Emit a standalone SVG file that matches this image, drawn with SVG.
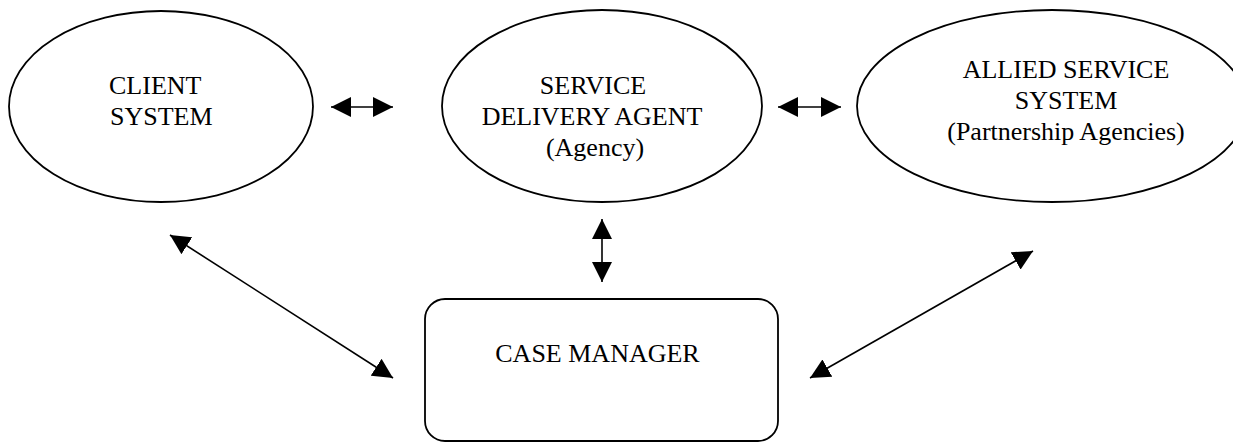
<svg xmlns="http://www.w3.org/2000/svg" width="1233" height="443" viewBox="0 0 1233 443">
<style>
.node{fill:#fff;stroke:#000;stroke-width:1.8}
.lbl{font-family:"Liberation Serif","Times New Roman",serif;font-size:26px;fill:#000}
.c{text-anchor:middle}
.conn{stroke:#000;stroke-width:1.6;fill:none;marker-start:url(#ah);marker-end:url(#ah)}
</style>
<defs>
<marker id="ah" viewBox="0 0 20 20" refX="20" refY="10" markerWidth="20" markerHeight="20" markerUnits="userSpaceOnUse" orient="auto-start-reverse">
<path d="M0,0 L20,10 L0,20 Z" fill="#000"/>
</marker>
</defs>
<rect width="1233" height="443" fill="#fff"/>
<g id="client">
<ellipse class="node" cx="161" cy="106.5" rx="152" ry="95.5"/>
<text class="lbl" x="109" y="94">CLIENT</text>
<text class="lbl" x="110" y="125">SYSTEM</text>
</g>
<g id="agent">
<ellipse class="node" cx="602" cy="106" rx="160" ry="96"/>
<text class="lbl c" x="593" y="94">SERVICE</text>
<text class="lbl c" x="592" y="125">DELIVERY AGENT</text>
<text class="lbl c" x="595" y="156">(Agency)</text>
</g>
<g id="allied">
<ellipse class="node" cx="1052" cy="106" rx="195" ry="96"/>
<text class="lbl c" x="1066" y="78">ALLIED SERVICE</text>
<text class="lbl c" x="1066" y="109">SYSTEM</text>
<text class="lbl c" x="1066" y="140">(Partnership Agencies)</text>
</g>
<g id="manager">
<rect class="node" x="425" y="299" width="353" height="142" rx="20" ry="20"/>
<text class="lbl c" x="597.5" y="362">CASE MANAGER</text>
</g>
<g id="connectors">
<line class="conn" x1="331" y1="107" x2="393" y2="107"/>
<line class="conn" x1="778" y1="107" x2="841" y2="107"/>
<line class="conn" x1="602" y1="219" x2="602" y2="282"/>
<line class="conn" x1="170" y1="235" x2="393" y2="378"/>
<line class="conn" x1="1033" y1="251" x2="810" y2="378"/>
</g>
</svg>
